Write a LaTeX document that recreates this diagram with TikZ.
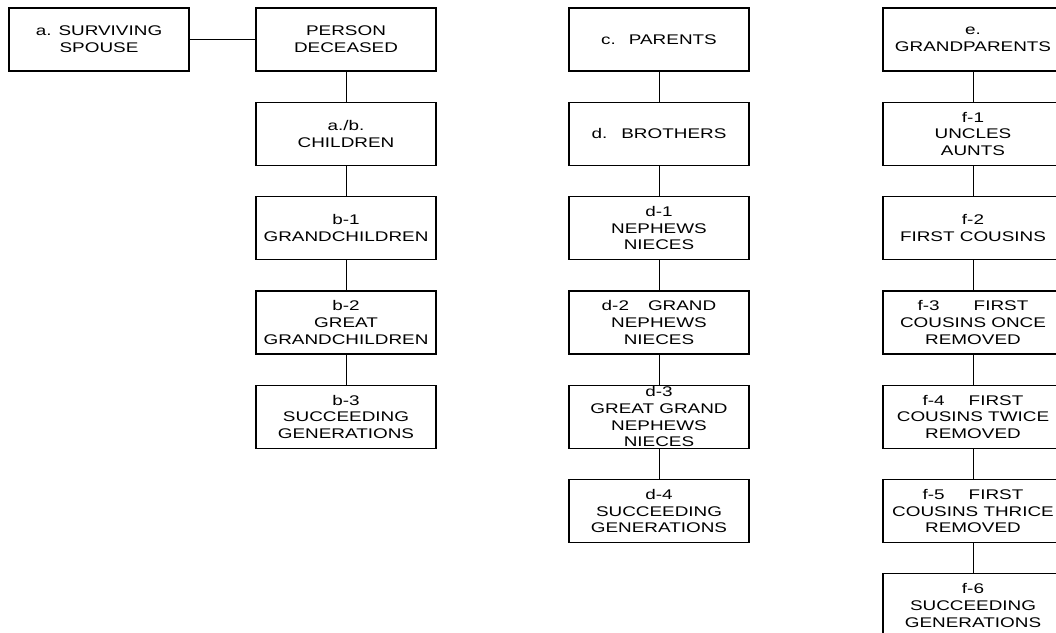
\documentclass[tikz,border=0pt]{standalone}
\usepackage{fontspec}
\setmainfont{Liberation Sans}[FakeStretch=1.35]
\usetikzlibrary{positioning}
\begin{document}
\begin{tikzpicture}[x=1pt,y=-1pt,node distance=30pt,
		heir/.style={draw,line width=1.3pt,minimum width=180pt,minimum height=63pt,
			inner sep=0pt,align=center,font=\fontsize{14}{16.7}\selectfont},
		link/.style={line width=.8pt}]
	\useasboundingbox (0,0) rectangle (1056,632);
	\clip (0,0) rectangle (1056,632);
	% cột người chết
	\node[heir] (spouse) at (99,39.5) {a. SURVIVING\\SPOUSE};
	\node[heir] (deceased) at (346,39.5) {PERSON\\DECEASED};
	\node[heir,below=of deceased] (children) {a./b.\\CHILDREN};
	\node[heir,below=of children] (b1) {b-1\\GRANDCHILDREN};
	\node[heir,below=of b1] (b2) {b-2\\GREAT\\GRANDCHILDREN};
	\node[heir,below=of b2] (b3) {b-3\\SUCCEEDING\\GENERATIONS};
	% cột cha mẹ
	\node[heir] (parents) at (659,39.5) {c.\hspace{13pt}PARENTS};
	\node[heir,below=of parents] (brothers) {d.\hspace{14pt}BROTHERS};
	\node[heir,below=of brothers] (d1) {d-1\\NEPHEWS\\NIECES};
	\node[heir,below=of d1] (d2) {d-2\hspace{19pt}GRAND\\NEPHEWS\\NIECES};
	\node[heir,below=of d2,inner ysep=-2pt] (d3) {d-3\\GREAT GRAND\\NEPHEWS\\NIECES};
	\node[heir,below=of d3] (d4) {d-4\\SUCCEEDING\\GENERATIONS};
	% cột ông bà
	\node[heir] (grand) at (973,39.5) {e.\\GRANDPARENTS};
	\node[heir,below=of grand] (f1) {f-1\\UNCLES\\AUNTS};
	\node[heir,below=of f1] (f2) {f-2\\FIRST COUSINS};
	\node[heir,below=of f2] (f3) {f-3\hspace{34pt}FIRST\\COUSINS ONCE\\REMOVED};
	\node[heir,below=of f3] (f4) {f-4\hspace{24pt}FIRST\\COUSINS TWICE\\REMOVED};
	\node[heir,below=of f4] (f5) {f-5\hspace{24pt}FIRST\\COUSINS THRICE\\REMOVED};
	\node[heir,below=of f5] (f6) {f-6\\SUCCEEDING\\GENERATIONS};
	\draw[link] (spouse) -- (deceased);
	\foreach \u/\v in {deceased/children,children/b1,b1/b2,b2/b3,
		parents/brothers,brothers/d1,d1/d2,d2/d3,d3/d4,
		grand/f1,f1/f2,f2/f3,f3/f4,f4/f5,f5/f6}
		\draw[link] (\u) -- (\v);
\end{tikzpicture}
\end{document}
